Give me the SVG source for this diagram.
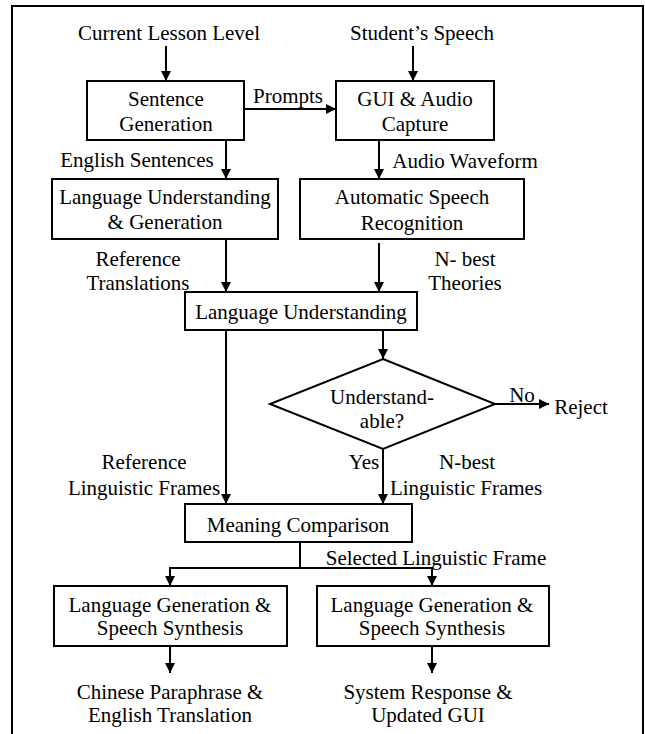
<svg xmlns="http://www.w3.org/2000/svg" width="645" height="734" viewBox="0 0 645 734">
<style>
text{font-family:"Liberation Serif","Times New Roman",serif;font-size:21px;fill:#000;text-anchor:middle}
.box{fill:#fff;stroke:#000;stroke-width:2}
.ln{fill:none;stroke:#000;stroke-width:2}
.ar{fill:none;stroke:#000;stroke-width:2;marker-end:url(#ah)}
</style>
<defs>
<marker id="ah" markerUnits="userSpaceOnUse" markerWidth="10" markerHeight="10" viewBox="0 0 10 10" refX="10" refY="5" orient="auto">
<path d="M0,0 L10,5 L0,10 z" fill="#000"/>
</marker>
</defs>
<rect width="645" height="734" fill="#fff"/>
<path class="ln" d="M12,734 V6 H643 V734"/>
<g id="connectors">
<line class="ar" x1="166" y1="46" x2="166" y2="81"/>
<line class="ar" x1="413" y1="46" x2="413" y2="81"/>
<line class="ar" x1="244" y1="109" x2="336" y2="109"/>
<line class="ar" x1="226" y1="140" x2="226" y2="179"/>
<line class="ar" x1="379" y1="140" x2="379" y2="179"/>
<line class="ar" x1="226" y1="239" x2="226" y2="292"/>
<line class="ar" x1="379" y1="243" x2="379" y2="292"/>
<line class="ar" x1="383" y1="330" x2="383" y2="359"/>
<line class="ar" x1="495" y1="404" x2="549" y2="404"/>
<line class="ar" x1="226" y1="330" x2="226" y2="504"/>
<line class="ar" x1="383" y1="449" x2="383" y2="504"/>
<polyline class="ln" points="300,542 300,568"/>
<line class="ln" x1="170" y1="568" x2="432" y2="568"/>
<line class="ar" x1="170" y1="567" x2="170" y2="586"/>
<line class="ar" x1="432" y1="567" x2="432" y2="586"/>
<line class="ar" x1="170" y1="646" x2="170" y2="673"/>
<line class="ar" x1="432" y1="646" x2="432" y2="673"/>
<text x="288" y="103">Prompts</text>
<text x="137" y="167">English Sentences</text>
<text x="465" y="168">Audio Waveform</text>
<text x="138" y="266">Reference</text>
<text x="138" y="290">Translations</text>
<text x="465" y="266">N- best</text>
<text x="465" y="290">Theories</text>
<text x="522" y="402">No</text>
<text x="144" y="469">Reference</text>
<text x="144" y="495">Linguistic Frames</text>
<text x="364" y="469">Yes</text>
<text x="467" y="469">N-best</text>
<text x="466" y="495">Linguistic Frames</text>
<text x="436" y="565">Selected Linguistic Frame</text>
</g>
<g id="in-level"><text x="169" y="40">Current Lesson Level</text></g>
<g id="in-speech"><text x="422" y="40">Student’s Speech</text></g>
<g id="sentence-generation">
<rect class="box" x="87" y="81" width="157" height="59"/>
<text x="166" y="106">Sentence</text>
<text x="166" y="131">Generation</text>
</g>
<g id="gui-audio">
<rect class="box" x="336" y="81" width="158" height="59"/>
<text x="415" y="106">GUI &amp; Audio</text>
<text x="415" y="131">Capture</text>
</g>
<g id="lang-und-gen">
<rect class="box" x="52" y="179" width="226" height="60"/>
<text x="165" y="204">Language Understanding</text>
<text x="165" y="229">&amp; Generation</text>
</g>
<g id="asr">
<rect class="box" x="300" y="179" width="224" height="60"/>
<text x="412" y="204">Automatic Speech</text>
<text x="412" y="230">Recognition</text>
</g>
<g id="lang-und">
<rect class="box" x="185" y="292" width="232" height="38"/>
<text x="301" y="319">Language Understanding</text>
</g>
<g id="understandable">
<polygon class="box" points="383,359 495,404 383,449 270,404"/>
<text x="382" y="404">Understand-</text>
<text x="382" y="428">able?</text>
</g>
<g id="reject"><text x="581" y="414">Reject</text></g>
<g id="meaning-comparison">
<rect class="box" x="185" y="504" width="227" height="38"/>
<text x="298" y="532">Meaning Comparison</text>
</g>
<g id="gen-synth-left">
<rect class="box" x="54" y="586" width="233" height="60"/>
<text x="170" y="612">Language Generation &amp;</text>
<text x="170" y="635">Speech Synthesis</text>
</g>
<g id="gen-synth-right">
<rect class="box" x="317" y="586" width="232" height="60"/>
<text x="432" y="612">Language Generation &amp;</text>
<text x="432" y="635">Speech Synthesis</text>
</g>
<g id="out-chinese">
<text x="170" y="699">Chinese Paraphrase &amp;</text>
<text x="170" y="722">English Translation</text>
</g>
<g id="out-system">
<text x="428" y="699">System Response &amp;</text>
<text x="428" y="722">Updated GUI</text>
</g>
</svg>
